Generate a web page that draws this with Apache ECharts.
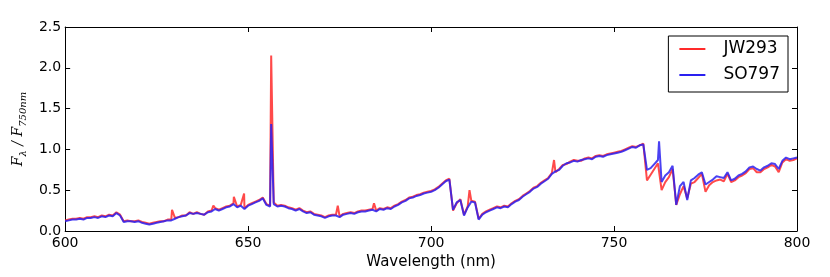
<!DOCTYPE html>
<html>
<head>
<meta charset="utf-8">
<script src="https://cdn.jsdelivr.net/npm/echarts@6/dist/echarts.min.js"></script>
<style>html,body{margin:0;padding:0;background:#fff}#c{width:830px;height:277px}</style>
</head>
<body>
<div id="c"></div>
<script>
const wavelengths = [
600,601,602,603,604,605,606,607,608,609,610,611,612,613,614,615,616,617,618,619,
620,621,622,623,624,625,626,627,628,629,630,631,632,633,634,635,636,637,638,639,
640,641,642,643,644,645,646,647,648,649,650,651,652,653,654,655,656,657,658,659,
660,661,662,663,664,665,666,667,668,669,670,671,672,673,674,675,676,677,678,679,
680,681,682,683,684,685,686,687,688,689,690,691,692,693,694,695,696,697,698,699,
700,701,702,703,704,705,706,707,708,709,710,711,712,713,714,715,716,717,718,719,
720,721,722,723,724,725,726,727,728,729,730,731,732,733,734,735,736,737,738,739,
740,741,742,743,744,745,746,747,748,749,750,751,752,753,754,755,756,757,758,759,
760,761,762,763,764,765,766,767,768,769,770,771,772,773,774,775,776,777,778,779,
780,781,782,783,784,785,786,787,788,789,790,791,792,793,794,795,796,797,798,799,800];

const jw293 = [
0.13,0.14,0.15,0.15,0.16,0.15,0.17,0.17,0.18,0.17,0.19,0.18,0.20,0.19,0.23,0.20,0.12,0.13,0.12,0.12,
0.13,0.11,0.10,0.09,0.10,0.11,0.12,0.12,0.14,0.14,0.16,0.17,0.19,0.19,0.23,0.21,0.23,0.21,0.20,0.24,
0.25,0.28,0.26,0.28,0.30,0.31,0.34,0.30,0.32,0.28,0.32,0.34,0.36,0.38,0.41,0.33,0.31,0.35,0.31,0.32,
0.31,0.29,0.28,0.26,0.28,0.25,0.23,0.24,0.21,0.20,0.19,0.17,0.19,0.20,0.20,0.18,0.21,0.22,0.23,0.22,
0.24,0.25,0.25,0.26,0.27,0.25,0.28,0.27,0.29,0.28,0.31,0.33,0.36,0.38,0.41,0.42,0.44,0.45,0.47,0.48,
0.49,0.51,0.54,0.58,0.62,0.64,0.25,0.34,0.39,0.20,0.30,0.37,0.36,0.15,0.21,0.24,0.26,0.28,0.30,0.29,
0.31,0.30,0.34,0.37,0.39,0.43,0.46,0.49,0.53,0.55,0.59,0.62,0.65,0.71,0.72,0.76,0.81,0.82,0.85,0.87,
0.86,0.86,0.89,0.90,0.89,0.92,0.93,0.92,0.94,0.95,0.96,0.97,0.98,1.00,1.02,1.04,1.03,1.05,1.07,0.62,
0.69,0.76,0.83,0.50,0.60,0.66,0.76,0.32,0.45,0.55,0.40,0.58,0.60,0.65,0.70,0.48,0.56,0.60,0.62,0.63,
0.61,0.70,0.60,0.62,0.66,0.68,0.71,0.76,0.77,0.72,0.72,0.76,0.78,0.81,0.79,0.72,0.84,0.88,0.86,0.87,0.89];

const so797 = [
0.12,0.13,0.14,0.14,0.15,0.14,0.16,0.16,0.17,0.16,0.18,0.17,0.19,0.18,0.22,0.19,0.11,0.12,0.12,0.11,
0.12,0.10,0.09,0.08,0.09,0.10,0.11,0.12,0.13,0.13,0.15,0.17,0.18,0.19,0.22,0.21,0.22,0.21,0.20,0.23,
0.24,0.27,0.25,0.27,0.29,0.30,0.33,0.29,0.31,0.27,0.31,0.33,0.35,0.37,0.40,0.32,0.30,0.33,0.30,0.31,
0.30,0.28,0.27,0.25,0.27,0.24,0.22,0.23,0.20,0.19,0.18,0.16,0.18,0.19,0.19,0.17,0.20,0.21,0.22,0.21,
0.23,0.24,0.24,0.25,0.26,0.24,0.27,0.26,0.28,0.27,0.30,0.32,0.35,0.37,0.40,0.41,0.43,0.44,0.46,0.47,
0.48,0.50,0.53,0.57,0.61,0.63,0.26,0.35,0.38,0.19,0.29,0.36,0.35,0.14,0.20,0.23,0.25,0.27,0.29,0.28,
0.30,0.29,0.33,0.36,0.38,0.42,0.45,0.48,0.52,0.54,0.58,0.61,0.64,0.70,0.73,0.75,0.80,0.83,0.84,0.86,
0.85,0.87,0.88,0.89,0.88,0.91,0.92,0.91,0.93,0.94,0.95,0.96,0.97,0.99,1.01,1.03,1.02,1.05,1.06,0.75,
0.77,0.82,0.87,0.60,0.68,0.72,0.80,0.32,0.55,0.60,0.38,0.62,0.65,0.69,0.72,0.57,0.60,0.63,0.67,0.66,
0.65,0.72,0.62,0.64,0.68,0.70,0.73,0.78,0.79,0.76,0.74,0.78,0.80,0.83,0.82,0.76,0.86,0.90,0.88,0.89,0.90];

// narrow emission spikes (wavelength, value)
const jw293SpikeWl  = [629.2, 640.5, 646.1, 648.9, 656.3, 674.5, 684.4, 710.5, 733.6];
const jw293SpikeVal = [0.26,  0.31,  0.42,  0.46,  2.15,  0.31,  0.34,  0.50,  0.87];
const so797SpikeWl  = [656.3, 762.3];
const so797SpikeVal = [1.31,  1.10];

const xTicks = [600, 650, 700, 750, 800];
const yTicks = [0.0, 0.5, 1.0, 1.5, 2.0, 2.5];

function build(vals, swl, sval) {
  const pts = wavelengths.map((w, i) => [w, vals[i]]);
  swl.forEach((w, i) => pts.push([w, sval[i]]));
  pts.sort((a, b) => a[0] - b[0]);
  return pts;
}

const chart = echarts.init(document.getElementById('c'), null, {renderer: 'canvas'});
const FONT = 'DejaVu Sans';
const axisCommon = {
  axisLine: {show: true, onZero: false, lineStyle: {color: '#000', width: 1}},
  axisTick: {show: true, inside: true, length: 5, lineStyle: {color: '#000', width: 1}},
  splitLine: {show: false}
};
chart.setOption({
  animation: false,
  backgroundColor: '#fff',
  grid: {left: 58, right: 33, top: 27, bottom: 46, containLabel: false},
  legend: {
    right: 42, top: 36,
    orient: 'vertical',
    data: ['JW293', 'SO797'],
    icon: 'rect',
    itemWidth: 26, itemHeight: 2,
    itemGap: 6,
    borderColor: '#000', borderWidth: 1, borderRadius: 0,
    padding: [3, 8, 7, 11],
    textStyle: {fontFamily: FONT, fontSize: 17, color: '#000', lineHeight: 20, padding: [0, 0, 0, 13]}
  },
  xAxis: [
    Object.assign({}, axisCommon, {
      type: 'value', min: xTicks[0], max: xTicks[xTicks.length - 1], interval: 50,
      position: 'bottom',
      name: 'Wavelength (nm)', nameLocation: 'middle', nameGap: 23,
      nameTextStyle: {fontFamily: FONT, fontSize: 15, color: '#000'},
      axisLabel: {fontFamily: FONT, fontSize: 14, color: '#000', margin: 5}
    }),
    Object.assign({}, axisCommon, {
      type: 'value', min: xTicks[0], max: xTicks[xTicks.length - 1], interval: 50,
      position: 'top', axisLabel: {show: false}
    })
  ],
  yAxis: [
    Object.assign({}, axisCommon, {
      type: 'value', min: yTicks[0], max: yTicks[yTicks.length - 1], interval: 0.5,
      position: 'left',
      name: '{i|F}{s|λ}{i| / F}{s|750nm}', nameLocation: 'middle', nameGap: 31, nameRotate: 90,
      nameTextStyle: {
        color: '#000',
        rich: {
          i: {fontFamily: 'DejaVu Serif', fontStyle: 'italic', fontSize: 14, color: '#000', lineHeight: 22},
          s: {fontFamily: 'DejaVu Serif', fontStyle: 'italic', fontSize: 10, color: '#000', lineHeight: 22, padding: [10, 0, 0, 0]}
        }
      },
      axisLabel: {fontFamily: FONT, fontSize: 14, color: '#000', margin: 4, formatter: v => v.toFixed(1)}
    }),
    Object.assign({}, axisCommon, {
      type: 'value', min: yTicks[0], max: yTicks[yTicks.length - 1], interval: 0.5,
      position: 'right', axisLabel: {show: false}
    })
  ],
  series: [
    {
      name: 'JW293', type: 'line', xAxisIndex: 0, yAxisIndex: 0,
      data: build(jw293, jw293SpikeWl, jw293SpikeVal),
      showSymbol: false, symbol: 'none',
      lineStyle: {color: '#ff2a2a', width: 2, opacity: 0.85},
      itemStyle: {color: '#ff2a2a'}
    },
    {
      name: 'SO797', type: 'line', xAxisIndex: 0, yAxisIndex: 0,
      data: build(so797, so797SpikeWl, so797SpikeVal),
      showSymbol: false, symbol: 'none',
      lineStyle: {color: '#2a20f0', width: 2, opacity: 0.85},
      itemStyle: {color: '#2a20f0'}
    }
  ]
});
</script>
</body>
</html>
